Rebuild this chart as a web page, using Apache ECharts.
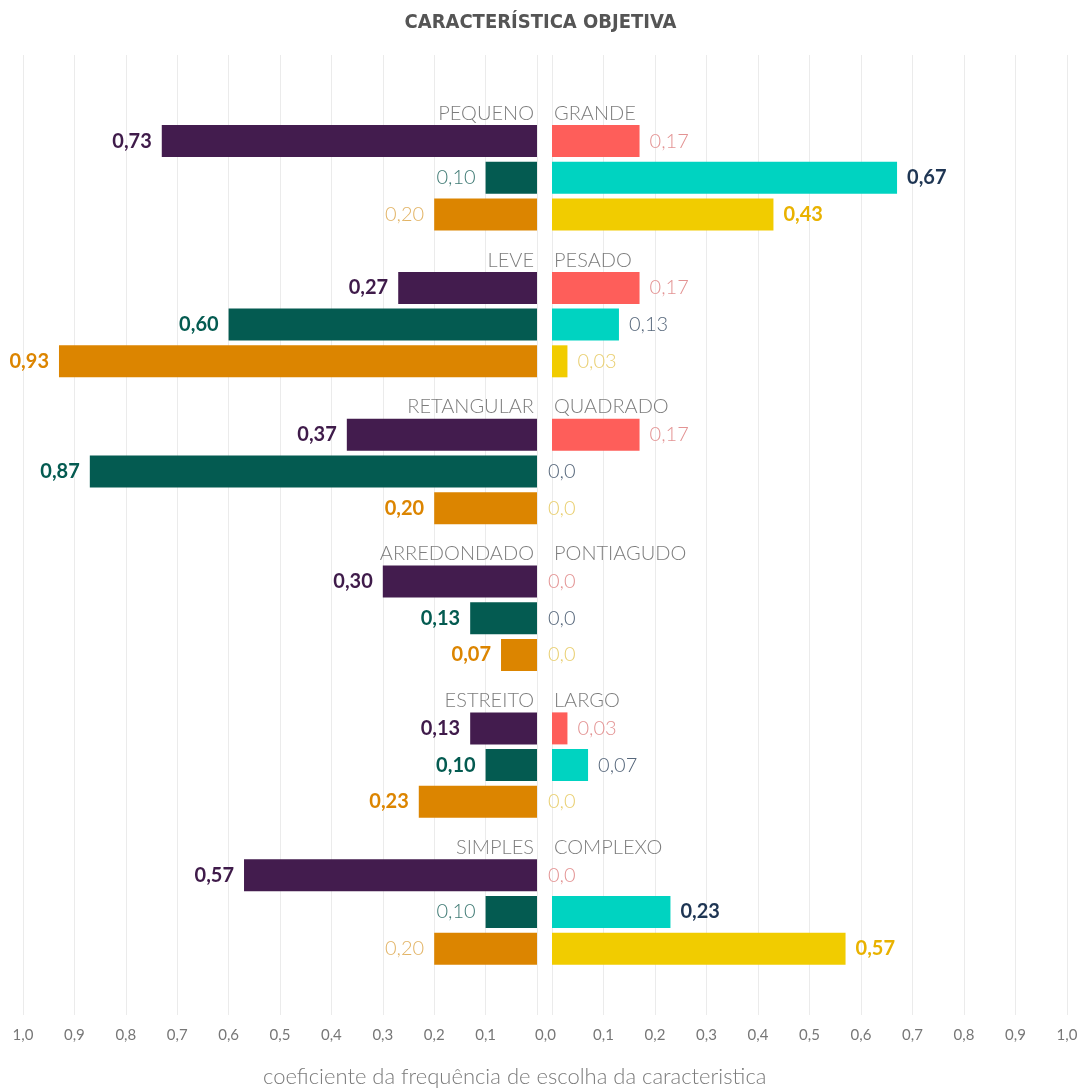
<!DOCTYPE html>
<html>
<head>
<meta charset="utf-8">
<script src="https://cdn.jsdelivr.net/npm/echarts@6/dist/echarts.min.js"></script>
<style>html,body{margin:0;padding:0;background:#fff;}#c{width:1081px;height:1089px;}</style>
</head>
<body>
<div id="c"></div>
<script>
// ---- data ----
const leftCats  = ['PEQUENO', 'LEVE', 'RETANGULAR', 'ARREDONDADO', 'ESTREITO', 'SIMPLES'];
const rightCats = ['GRANDE', 'PESADO', 'QUADRADO', 'PONTIAGUDO', 'LARGO', 'COMPLEXO'];
const leftPurple = [0.73, 0.27, 0.37, 0.30, 0.13, 0.57];
const leftTeal   = [0.10, 0.60, 0.87, 0.13, 0.10, 0.10];
const leftOrange = [0.20, 0.93, 0.20, 0.07, 0.23, 0.20];
const rightCoral  = [0.17, 0.17, 0.17, 0.0, 0.03, 0.0];
const rightCyan   = [0.67, 0.13, 0.0, 0.0, 0.07, 0.23];
const rightYellow = [0.43, 0.03, 0.0, 0.0, 0.0, 0.57];
const tickValues = [0, 0.1, 0.2, 0.3, 0.4, 0.5, 0.6, 0.7, 0.8, 0.9, 1.0];
const titleText = 'CARACTERÍSTICA OBJETIVA';
const axisTitle = 'coeficiente da frequência de escolha da caracteristica';

// ---- styles ----
const barColors = {
  lp: '#431c4e', lt: '#045b51', lo: '#dc8500',
  rc: '#fe5e5a', ry: '#00d3c1', rw: '#f1cc00'
};
const labelBold = { lp: '#3f1b4a', lt: '#045b51', lo: '#dc8500', rc: '#f05a56', ry: '#1e3553', rw: '#e9b200' };
const labelLight = { lp: '#7a5a80', lt: '#3f7a74', lo: '#e2b466', rc: '#e39393', ry: '#56677b', rw: '#e9cf70' };
const FONT = 'Lato, "Open Sans", sans-serif';

// category slots: 4 per group (label row + 3 bars)
const cats = [];
leftCats.forEach((c, g) => { cats.push('H' + g); cats.push('B' + g + '_0'); cats.push('B' + g + '_1'); cats.push('B' + g + '_2'); });

const fmtVal = v => v === 0 ? '0,0' : v.toFixed(2).replace('.', ',');

function buildSeries(key, vals, other, k, side) {
  const data = cats.map(() => '-');
  vals.forEach((v, g) => {
    const bold = v > other[g];
    const lab = {
      show: true,
      position: side === 'L' ? 'left' : 'right',
      distance: 10,
      formatter: fmtVal(v),
      fontFamily: FONT,
      fontSize: 20,
      fontWeight: bold ? 700 : 300,
      color: bold ? labelBold[key] : labelLight[key]
    };
    if (v === 0) { lab.distance = 0; lab.offset = [-4, 0]; }
    data[g * 4 + 1 + k] = { value: v, label: lab };
  });
  return {
    type: 'bar',
    xAxisIndex: side === 'L' ? 0 : 1,
    yAxisIndex: side === 'L' ? 0 : 1,
    barWidth: 32,
    barGap: '-100%',
    itemStyle: { color: barColors[key] },
    data: data,
    silent: true,
    animation: false
  };
}

const series = [
  buildSeries('lp', leftPurple, rightCoral, 0, 'L'),
  buildSeries('lt', leftTeal, rightCyan, 1, 'L'),
  buildSeries('lo', leftOrange, rightYellow, 2, 'L'),
  buildSeries('rc', rightCoral, leftPurple, 0, 'R'),
  buildSeries('ry', rightCyan, leftTeal, 1, 'R'),
  buildSeries('rw', rightYellow, leftOrange, 2, 'R')
];

const catLabel = names => (val) => {
  if (val[0] === 'H') return names[+val.slice(1)];
  return '';
};

const tickFmt = v => (Math.round(v * 10) / 10).toFixed(1).replace('.', ',');

const option = {
  animation: false,
  backgroundColor: '#ffffff',
  title: [
    { text: titleText, left: 'center', top: 8,
      textStyle: { fontFamily: '"Liberation Sans Narrow", "DejaVu Sans Condensed", sans-serif', fontWeight: 'bold', fontSize: 20, color: '#555555' } },
    { text: axisTitle, left: 258, top: 1061,
      textStyle: { fontFamily: FONT, fontWeight: 300, fontSize: 22, color: '#7a7a7a' } }
  ],
  grid: [
    { left: 23, right: 544, top: 86, bottom: 122 },
    { left: 552, right: 14, top: 86, bottom: 122 },
    { left: 23, right: 544, top: 55, bottom: 74 },
    { left: 552, right: 14, top: 55, bottom: 74 }
  ],
  xAxis: [
    { gridIndex: 0, type: 'value', min: 0, max: 1, interval: 0.1, inverse: true, show: false },
    { gridIndex: 1, type: 'value', min: 0, max: 1, interval: 0.1, show: false },
    { gridIndex: 2, type: 'value', min: 0, max: 1, interval: 0.1, inverse: true,
      axisLine: { show: false }, axisTick: { show: false },
      splitLine: { show: true, lineStyle: { color: '#ebebeb', width: 1 } },
      axisLabel: { margin: 13, fontFamily: FONT, fontSize: 15, color: '#777777',
        formatter: v => v === 0 ? '{z|0,0}' : tickFmt(v),
        rich: { z: { fontFamily: FONT, fontSize: 15, color: '#777777', padding: [0, 0, 0, 17] } } } },
    { gridIndex: 3, type: 'value', min: 0, max: 1, interval: 0.1,
      axisLine: { show: false }, axisTick: { show: false },
      splitLine: { show: true, lineStyle: { color: '#ebebeb', width: 1 } },
      axisLabel: { margin: 13, fontFamily: FONT, fontSize: 15, color: '#777777',
        formatter: v => v === 0 ? '' : tickFmt(v) } }
  ],
  yAxis: [
    { gridIndex: 0, type: 'category', data: cats, inverse: true, position: 'right',
      axisLine: { show: false }, axisTick: { show: false }, splitLine: { show: false },
      axisLabel: { inside: true, margin: 3, interval: 0, verticalAlign: 'top', lineHeight: 18,
        fontFamily: FONT, fontWeight: 300, fontSize: 20, color: '#7d7d7d', formatter: catLabel(leftCats) } },
    { gridIndex: 1, type: 'category', data: cats, inverse: true, position: 'left',
      axisLine: { show: false }, axisTick: { show: false }, splitLine: { show: false },
      axisLabel: { inside: true, margin: 2, interval: 0, verticalAlign: 'top', lineHeight: 18,
        fontFamily: FONT, fontWeight: 300, fontSize: 20, color: '#7d7d7d', formatter: catLabel(rightCats) } },
    { gridIndex: 2, type: 'value', show: false },
    { gridIndex: 3, type: 'value', show: false }
  ],
  series: series
};

const chart = echarts.init(document.getElementById('c'), null, { renderer: 'canvas' });
chart.setOption(option);
</script>
</body>
</html>
